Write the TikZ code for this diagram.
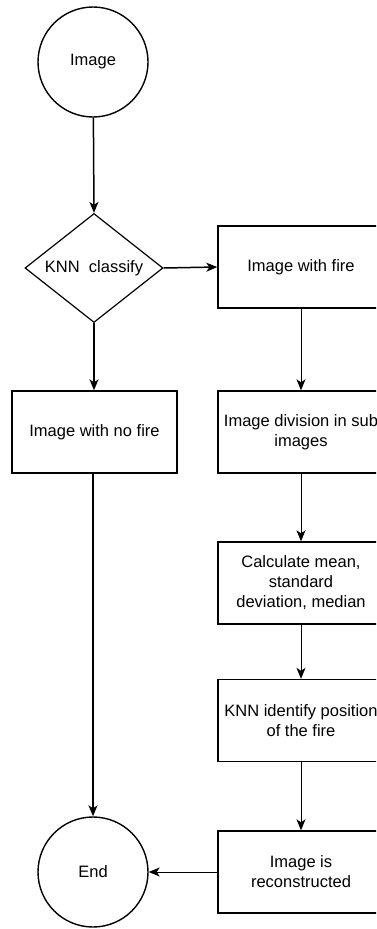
\documentclass[tikz,border=0pt]{standalone}
\usepackage{fontspec}
\setmainfont{Liberation Sans}
\usetikzlibrary{shapes.geometric,arrows.meta}
\begin{document}
\begin{tikzpicture}[x=1pt,y=-1pt,
  every node/.style={font=\fontsize{16.5}{20}\selectfont, align=center},
  terminal/.style={circle, draw, line width=1.4pt, minimum size=110pt, inner sep=0pt},
  procbox/.style={rectangle, draw, line width=1.4pt, minimum width=166pt, minimum height=82pt, inner sep=0pt},
  decision/.style={diamond, draw, line width=1.2pt, minimum width=138pt, minimum height=109pt, inner sep=0pt},
  flow/.style={-{Stealth[length=11pt,width=9pt,inset=3pt]}, line width=1.5pt},
  thinflow/.style={-{Stealth[length=11pt,width=9pt,inset=3pt]}, line width=1pt}]
  \useasboundingbox (0,0) rectangle (376,929);
  \clip (0,0) rectangle (376,929);
  \fill[white] (0,0) rectangle (376,929);

  % left column
  \node[terminal] (start) at (93,62) {Image};
  \node[decision] (cls) at (94,268) {};
  \node at (cls.center) {KNN\ \ classify};
  \node[procbox, minimum width=165pt] (nofire) at (94.5,432) {Image with no fire};
  \node[terminal] (finish) at (93,872) {End};

  % right column (runs past the right edge)
  \node[procbox] (fire) at (301,267) {Image with fire};
  \node[procbox] (divide) at (301,432) {Image division in sub\\images};
  \node[procbox] (stats) at (301,583) {Calculate mean,\\standard\\deviation, median};
  \node[procbox] (locate) at (301,720.5) {KNN identify position\\of the fire};
  \node[procbox] (rebuild) at (301,872) {Image is\\reconstructed};

  % connectors
  \draw[flow] (start) -- (cls.north);
  \draw[flow] (cls.east) -- (fire.west);
  \draw[flow] (cls.south) -- (nofire.north -| cls.south);
  \draw[flow] (nofire.south -| finish.north) -- (finish.north);
  \draw[thinflow] (fire) -- (divide);
  \draw[thinflow] (divide) -- (stats);
  \draw[thinflow] (stats) -- (locate);
  \draw[thinflow] (locate) -- (rebuild);
  \draw[thinflow] (rebuild) -- (finish);
\end{tikzpicture}
\end{document}
